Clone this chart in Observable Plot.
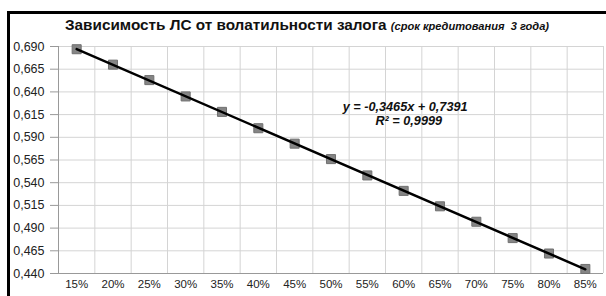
<!DOCTYPE html>
<html><head><meta charset="utf-8">
<script src="https://cdn.jsdelivr.net/npm/d3@7"></script>
<script src="https://cdn.jsdelivr.net/npm/@observablehq/plot@0.6"></script>
<style>
body{margin:0;background:#fff;font-family:"Liberation Sans",Arial,sans-serif;}
#wrap{position:relative;width:606px;height:296px;overflow:hidden;}
#title{position:absolute;left:65px;top:16px;font-weight:bold;font-size:15.3px;color:#111;white-space:nowrap;}
#title i{font-size:11.1px;}
#btop{position:absolute;left:7px;top:11px;width:599px;height:3px;background:#000;}
#bleft{position:absolute;left:7px;top:11px;width:3px;height:285px;background:#000;}
#chart{position:absolute;left:0;top:0;}
</style></head>
<body><div id="wrap"><div id="chart"></div><div id="btop"></div><div id="bleft"></div>
<div id="title">Зависимость ЛС от волатильности залога <i>(срок кредитования&nbsp; 3 года)</i></div></div>
<script>
const volatility = [0.15,0.20,0.25,0.30,0.35,0.40,0.45,0.50,0.55,0.60,0.65,0.70,0.75,0.80,0.85];
const lossValues = [0.687,0.670,0.653,0.635,0.618,0.600,0.583,0.566,0.548,0.531,0.514,0.497,0.479,0.462,0.445];
const yTicks = [0.440,0.465,0.490,0.515,0.540,0.565,0.590,0.615,0.640,0.665,0.690];
const xBounds = [0.125,0.175,0.225,0.275,0.325,0.375,0.425,0.475,0.525,0.575,0.625,0.675,0.725,0.775,0.825,0.875];
const equationText = "y = -0,3465x + 0,7391";
const r2Text = "R² = 0,9999";
const data = volatility.map((v,i)=>({x:v,y:lossValues[i]}));
const comma = d => d3.format(".3f")(d).replace(".", ",");
const chart = Plot.plot({
  width:606, height:296,
  marginTop:46, marginBottom:23, marginLeft:58, marginRight:3,
  style:{fontFamily:"Liberation Sans, Arial, sans-serif", background:"transparent"},
  x:{domain:[0.125,0.875]},
  y:{domain:[0.44,0.69]},
  marks:[
    Plot.ruleY(yTicks.slice(1), {stroke:"#d4d4d4", strokeWidth:1}),
    Plot.ruleX(xBounds.slice(1,-1), {stroke:"#d4d4d4", strokeWidth:1}),
    Plot.ruleX([0.875], {stroke:"#d4d4d4", strokeWidth:1}),
    Plot.axisY({ticks:yTicks, tickFormat:comma, tickSize:8, tickPadding:6, fontSize:12.5, color:"#222", stroke:"#999", label:null}),
    Plot.axisX({ticks:volatility, tickFormat:d=>Math.round(d*100)+"%", tickSize:0, tickPadding:6, fontSize:11.5, color:"#222", label:null}),
    Plot.ruleY([0.44], {stroke:"#999", strokeWidth:1, insetLeft:-8}),
    Plot.ruleX([0.125], {stroke:"#999", strokeWidth:1}),
    Plot.dot(data, {x:"x", y:"y", symbol:"square", r:5.1, fill:"#858585", stroke:"#707070", strokeWidth:1}),
    Plot.linearRegressionY(data, {x:"x", y:"y", ci:0, stroke:"#000", strokeWidth:2.5}),
    Plot.text([equationText], {x:0.602, y:0.624, text:d=>d, fontSize:12.7, fontWeight:"bold", fontStyle:"italic", fill:"#111"}),
    Plot.text([r2Text], {x:0.607, y:0.6075, text:d=>d, fontSize:12.7, fontWeight:"bold", fontStyle:"italic", fill:"#111"})
  ]
});
document.getElementById("chart").appendChild(chart);
</script></body></html>
